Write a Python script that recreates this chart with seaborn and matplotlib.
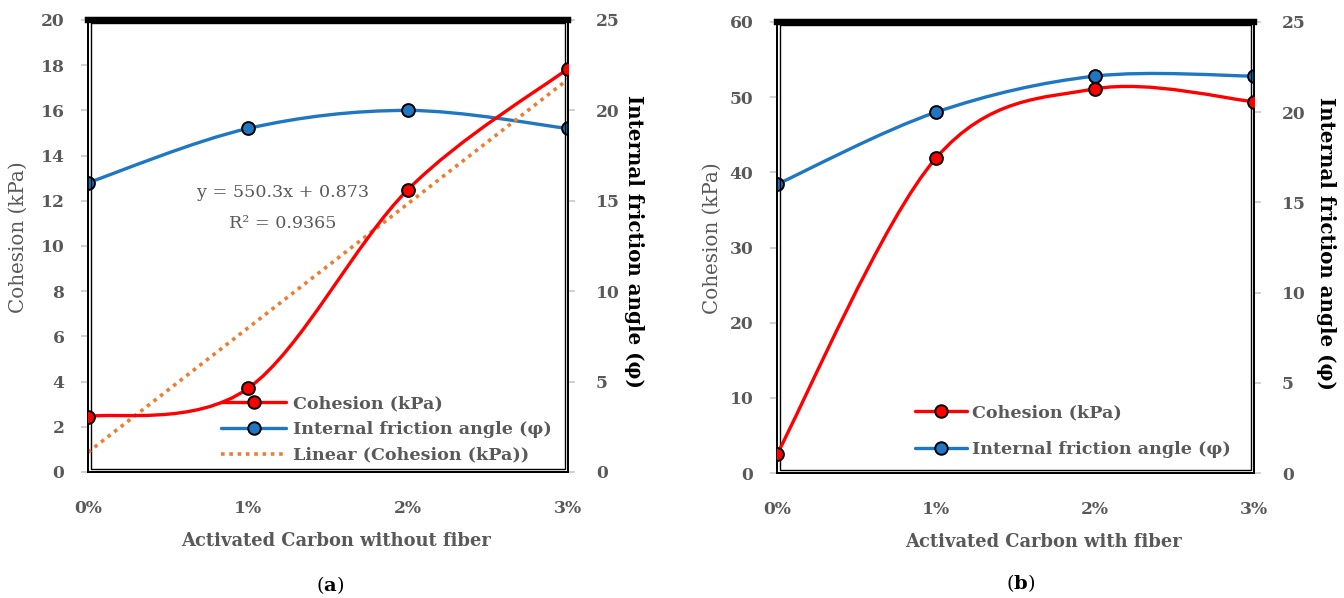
import numpy as np
import pandas as pd
import matplotlib
matplotlib.use("Agg")
import matplotlib.pyplot as plt
from matplotlib.path import Path
from matplotlib.patches import PathPatch, Rectangle
from matplotlib.lines import Line2D
import seaborn as sns

# ---------------- data ----------------
carbon_pct = [0, 1, 2, 3]
tick_labels = ["0%", "1%", "2%", "3%"]

cohesion_a = [2.45, 3.7, 12.5, 17.85]
friction_a = [16.0, 19.0, 20.0, 19.0]

cohesion_b = [2.5, 41.9, 51.1, 49.4]
friction_b = [16.0, 20.0, 22.0, 22.0]

trend_text = ["y = 550.3x + 0.873", "R\u00b2 = 0.9365"]

# ---------------- style ----------------
sns.set_style("white")
plt.rcParams["font.family"] = ["DejaVu Serif"]
plt.rcParams["mathtext.fontset"] = "dejavuserif"

GRAY = "#595959"
RED = "#FF0000"
BLUE = "#1F77C4"
ORANGE = "#ED7D31"
TICK_FS = 12.3
LAB_FS = 14.3
XLAB_FS = 12.9
LEG_FS = 12.6


def smooth_path(xs, ys):
    pts = np.column_stack([xs, ys]).astype(float)
    n = len(pts)
    verts = [pts[0]]
    codes = [Path.MOVETO]
    for i in range(n - 1):
        p0 = pts[i - 1] if i > 0 else pts[i]
        p1 = pts[i]
        p2 = pts[i + 1]
        p3 = pts[i + 2] if i + 2 < n else pts[i + 1]
        c1 = p1 + (p2 - p0) / 6.0
        c2 = p2 - (p3 - p1) / 6.0
        verts += [c1, c2, p2]
        codes += [Path.CURVE4] * 3
    return Path(verts, codes)


def draw_series(ax, xs, ys, color, z):
    ax.add_patch(PathPatch(smooth_path(xs, ys), fill=False, edgecolor=color,
                           lw=2.4, zorder=z, capstyle="round"))
    sns.scatterplot(x=xs, y=ys, ax=ax, color=color, edgecolor="black",
                    linewidth=1.4, s=85, zorder=z + 1, legend=False)


def style_axes(ax, ax2, ylim, yticks, xlabel, xlab_x, ylab_x, ylab2_x):
    ax.set_xlim(0, 3)
    ax.set_xticks(carbon_pct)
    ax.set_xticklabels(tick_labels)
    ax.set_ylim(*ylim)
    ax.set_yticks(yticks)
    ax2.set_ylim(0, 25)
    ax2.set_yticks(range(0, 26, 5))
    common = dict(colors="#c8c8c8", length=5, width=1.2, direction="out",
                  labelsize=TICK_FS, labelcolor=GRAY)
    ax.tick_params(axis="x", pad=15, **common)
    ax.tick_params(axis="y", pad=12, **common)
    ax2.tick_params(axis="y", pad=15, **common)
    for a in (ax, ax2):
        for s in a.spines.values():
            s.set_color("black")
            s.set_linewidth(1.3)
        a.spines["top"].set_linewidth(4.5)
        for lab in a.get_xticklabels() + a.get_yticklabels():
            lab.set_fontweight("bold")
    ax.set_xlabel(xlabel, fontsize=XLAB_FS, color=GRAY, fontweight="bold")
    ax.xaxis.set_label_coords(xlab_x, -0.133)
    ax.set_ylabel("Cohesion (kPa)", fontsize=LAB_FS, color=GRAY, va="center")
    ax.yaxis.set_label_coords(ylab_x, 0.52)
    ax2.set_ylabel("Internal friction angle (\u03c6)", fontsize=LAB_FS,
                   color="black", fontweight="bold", rotation=270,
                   va="center")
    ax2.yaxis.set_label_coords(ylab2_x, 0.51)
    ax.set_zorder(ax2.get_zorder() + 1)
    ax.patch.set_visible(False)
    # inner frame line (double border look)
    ax.add_patch(Rectangle((0.007, 0.007), 0.986, 0.986,
                           transform=ax.transAxes, fill=False,
                           edgecolor="black", lw=1.0, zorder=0.5,
                           clip_on=False))


fig = plt.figure(figsize=(13.44, 5.98), dpi=100)

# ---------------- panel (a) ----------------
axA = fig.add_axes([88 / 1344, 1 - 472 / 598, 480 / 1344, 452 / 598])
axA2 = axA.twinx()

sns.regplot(x=np.array(carbon_pct, float), y=np.array(cohesion_a),
            ax=axA, scatter=False, ci=None, truncate=True,
            line_kws=dict(color=ORANGE, lw=2.6, ls=(0, (1, 1.3)), zorder=2))
draw_series(axA2, carbon_pct, friction_a, BLUE, 3)
draw_series(axA, carbon_pct, cohesion_a, RED, 4)

axA.text(1.22, 12.35, trend_text[0], fontsize=LEG_FS, color=GRAY,
         ha="center", va="center")
axA.text(1.22, 11.0, trend_text[1], fontsize=LEG_FS, color=GRAY,
         ha="center", va="center")

style_axes(axA, axA2, (0, 20), range(0, 21, 2),
           "Activated Carbon without fiber", 0.517, -0.146, 1.138)

handles_a = [
    Line2D([], [], color=RED, lw=2.4, marker="o", markersize=9,
           markeredgecolor="black", markeredgewidth=1.4),
    Line2D([], [], color=BLUE, lw=2.4, marker="o", markersize=9,
           markeredgecolor="black", markeredgewidth=1.4),
    Line2D([], [], color=ORANGE, lw=2.6, ls=(0, (1, 1.3))),
]
leg = axA.legend(handles_a, ["Cohesion (kPa)", "Internal friction angle (\u03c6)",
                             "Linear (Cohesion (kPa))"],
                 loc="upper left", bbox_to_anchor=(0.278, 0.17), frameon=False,
                 fontsize=LEG_FS, handlelength=3.7, handletextpad=0.4,
                 labelspacing=0.5, borderpad=0, borderaxespad=0, numpoints=1)
for t in leg.get_texts():
    t.set_color(GRAY)
    t.set_fontweight("bold")

# ---------------- panel (b) ----------------
axB = fig.add_axes([777 / 1344, 1 - 473 / 598, 477 / 1344, 451 / 598])
axB2 = axB.twinx()

draw_series(axB2, carbon_pct, friction_b, BLUE, 3)
draw_series(axB, carbon_pct, cohesion_b, RED, 4)

style_axes(axB, axB2, (0, 60), range(0, 61, 10),
           "Activated Carbon with fiber", 0.558, -0.136, 1.150)

leg2 = axB.legend(handles_a[:2], ["Cohesion (kPa)", "Internal friction angle (\u03c6)"],
                  loc="upper left", bbox_to_anchor=(0.289, 0.152), frameon=False,
                  fontsize=LEG_FS, handlelength=3.0, handletextpad=0.25,
                  labelspacing=1.1, borderpad=0, borderaxespad=0, numpoints=1)
for t in leg2.get_texts():
    t.set_color(GRAY)
    t.set_fontweight("bold")

fig.text(330 / 1344, 1 - 585 / 598, r"($\mathbf{a}$)", fontsize=14,
         ha="center", va="center", color="black")
fig.text(1021 / 1344, 1 - 583 / 598, r"($\mathbf{b}$)", fontsize=14,
         ha="center", va="center", color="black")

fig.savefig("out.png", dpi=100, facecolor="white")
